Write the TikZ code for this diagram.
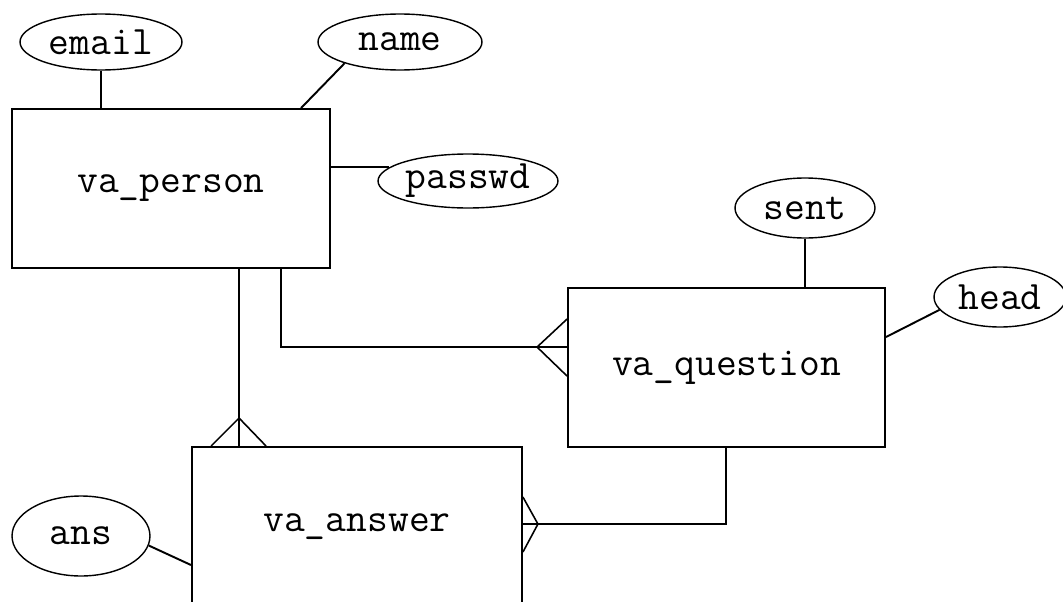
\documentclass[tikz,border=0pt]{standalone}
\usepackage{tikz}
\usetikzlibrary{shapes.geometric, calc}

\begin{document}
\begin{tikzpicture}[
    x=0.02cm, y=-0.02cm,
    entity/.style={draw, rectangle, line width=1.1pt, font=\ttfamily\fontsize{23}{27}\selectfont, inner sep=0pt},
    attrib/.style={draw, ellipse, line width=0.8pt, inner sep=0pt, font=\ttfamily\fontsize{23}{27}\selectfont},
    link/.style={line width=1.1pt},
    foot/.style={line width=0.9pt},
]
  \useasboundingbox (0,0) rectangle (1063,602);
  \clip (0,0) rectangle (1063,602);
  \fill[white] (0,0) rectangle (1063,602);

  \node[entity, minimum width=6.36cm, minimum height=3.18cm] (person) at (171,188.5) {va\_person};
  \node[entity, minimum width=6.34cm, minimum height=3.18cm] (question) at (726.5,367.5) {va\_question};
  \node[entity, minimum width=6.6cm, minimum height=3.2cm] (answer) at (357,527) {va\_answer};

  \node[attrib, minimum width=3.24cm, minimum height=1.12cm] (email) at (101,42) {email};
  \node[attrib, minimum width=3.28cm, minimum height=1.12cm] (name) at (400,42) {name};
  \node[attrib, minimum width=3.6cm, minimum height=1.08cm] (passwd) at (468,181) {passwd};
  \node[attrib, minimum width=2.8cm, minimum height=1.2cm] (sent) at (805,208) {sent};
  \node[attrib, minimum width=2.64cm, minimum height=1.2cm] (head) at (1000,297) {head};
  \node[attrib, minimum width=2.76cm, minimum height=1.6cm] (ans) at (81,536) {ans};

  % attributes
  \draw[link] (email.south) -- (email.south |- person.north);
  \draw[link] (name.201) -- ($(person.north west)+(290,0)$);
  \draw[link] (passwd.170) -- (passwd.170 -| person.east);
  \draw[link] (sent.south) -- (sent.south |- question.north);
  \draw[link] (head.192) -- ($(question.north east)+(0,50)$);
  \draw[link] (ans.-8) -- ($(answer.north west)+(0,119)$);

  % relations
  \coordinate (pq) at ($(person.south west)+(270,0)$);
  \coordinate (qp) at ($(question.north west)+(0,60)$);
  \draw[link] (pq) |- (qp);
  \draw[foot] ($(question.north west)+(0,32)$) -- ($(qp)+(-30,0)$) -- ($(question.north west)+(0,89)$);

  \coordinate (pa) at ($(person.south west)+(228,0)$);
  \draw[link] (pa) -- (pa |- answer.north);
  \draw[foot] ($(answer.north west)+(20,0)$) -- ($(pa |- answer.north)+(0,-28)$) -- ($(answer.north west)+(75,0)$);

  \coordinate (qa) at ($(question.south west)+(159,0)$);
  \coordinate (aq) at ($(answer.north east)+(0,78)$);
  \draw[link] (qa) |- (aq);
  \draw[foot] ($(answer.north east)+(0,51)$) -- ($(aq)+(15,0)$) -- ($(answer.north east)+(0,106)$);
\end{tikzpicture}
\end{document}
